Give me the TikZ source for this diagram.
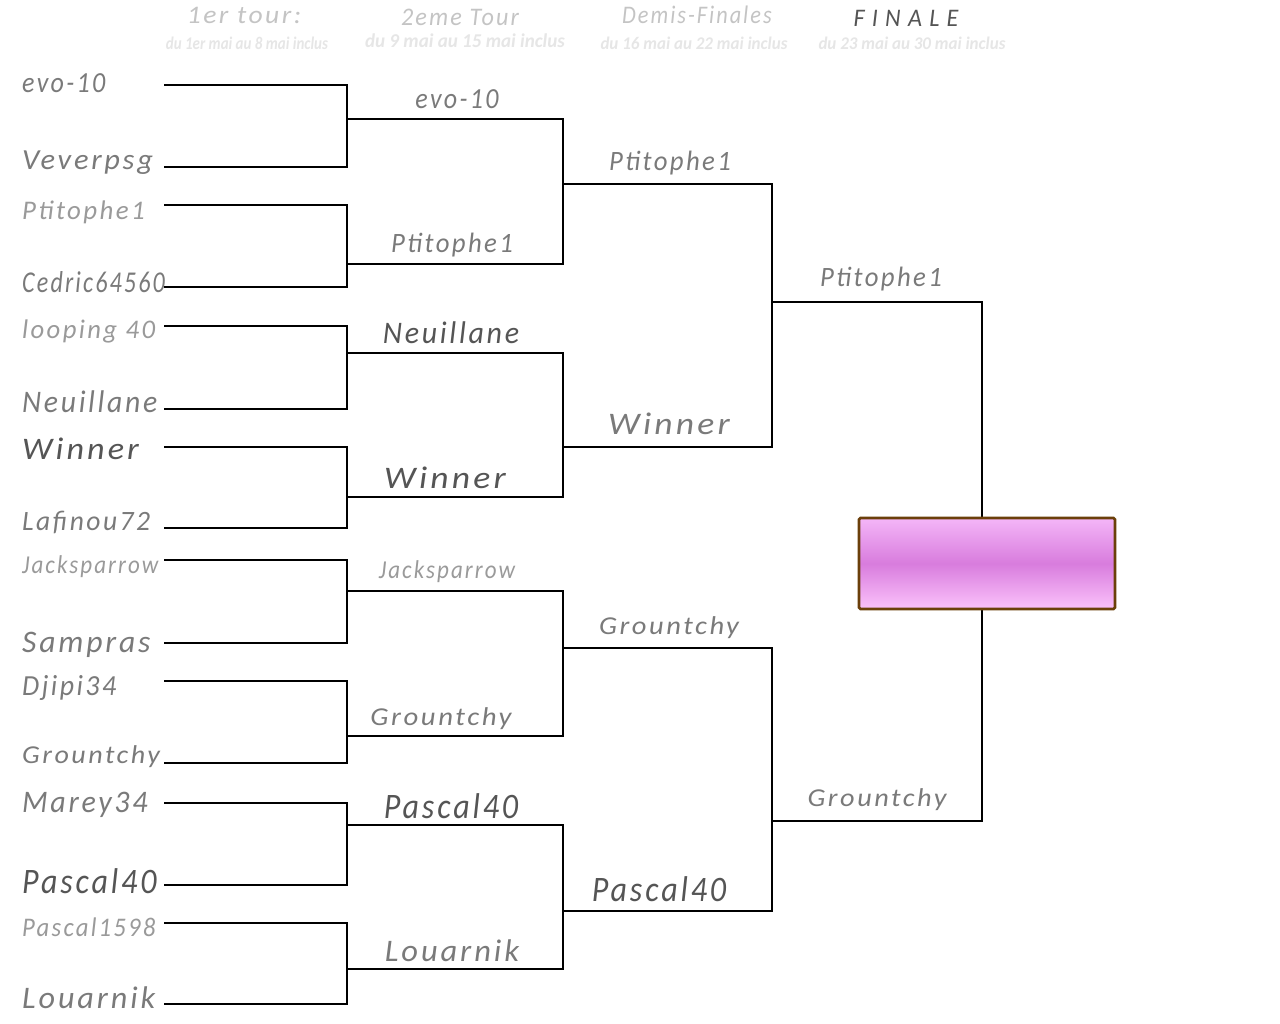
\documentclass[tikz,border=0pt]{standalone}
\usepackage{fontspec}
\usepackage{graphicx}
\setmainfont{Carlito}
\newfontfamily\namefont[LetterSpace=9]{Carlito}
\newfontfamily\finfont[LetterSpace=30]{Carlito}
\newfontfamily\subfont{Carlito}
\newcommand\lbl[2]{\scalebox{#1}[1.12]{#2}}
\definecolor{nmgray}{HTML}{7A7A7A}
\definecolor{nmdark}{HTML}{555555}
\definecolor{nmlight}{HTML}{9A9A9A}
\definecolor{hdgray}{HTML}{C4C4C4}
\definecolor{subgray}{HTML}{E6E6E6}
\definecolor{boxedge}{HTML}{6B3F0A}
\definecolor{boxtop}{HTML}{F4B6F8}
\definecolor{boxmid}{HTML}{D87CDD}
\definecolor{boxbot}{HTML}{FBC2FB}
\begin{document}
\begin{tikzpicture}[x=1pt,y=-1pt,
  wire/.style={line width=2.8pt,black,line cap=rect,line join=miter},
  nm/.style={inner sep=0pt,text=nmgray,font=\namefont\itshape\fontsize{#1}{#1}\selectfont},
  nm/.default=26,
  hd/.style={inner sep=0pt,text=hdgray,font=\namefont\itshape\fontsize{23}{23}\selectfont},
  sub/.style={inner sep=0pt,text=subgray,font=\subfont\bfseries\itshape\fontsize{17}{17}\selectfont}]
\useasboundingbox[fill=white] (0,0) rectangle (1280,1024);

% headers
\node[hd] (h1) at (244,15) {\scalebox{1.2}[1.1]{1er tour:}};
\node[sub] (s1) at (247,43) {\scalebox{0.88}[1.05]{du 1er mai au 8 mai inclus}};
\node[hd] (h2) at (460,17) {\scalebox{1.05}[1.1]{2eme Tour}};
\node[sub] (s2) at (465,41) {\scalebox{1.12}[1.15]{du 9 mai au 15 mai inclus}};
\node[hd] (h3) at (697,15) {\scalebox{0.97}[1.1]{Demis-Finales}};
\node[sub] (s3) at (694,43) {\scalebox{1}[1.05]{du 16 mai au 22 mai inclus}};
\node[hd,text=nmdark,font=\finfont\itshape\fontsize{23}{23}\selectfont] (h4) at (906,18) {\scalebox{1.05}[1.1]{FINALE}};
\node[sub] (s4) at (912,43) {\scalebox{1}[1.05]{du 23 mai au 30 mai inclus}};

% round 1 coordinates
\foreach \n/\y in {1/85,2/167,3/205,4/287,5/326,6/409,7/447,8/528,
                   9/560,10/643,11/681,12/763,13/803,14/885,15/923,16/1004}{
  \coordinate (a\n) at (165,\y);
  \coordinate (b\n) at (347,\y);
}
% round 2
\foreach \n/\y in {1/119,2/264,3/353,4/497,5/591,6/736,7/825,8/969}{
  \coordinate (c\n) at (347,\y);
  \coordinate (d\n) at (563,\y);
}
% round 3
\foreach \n/\y in {1/184,2/447,3/648,4/911}{
  \coordinate (e\n) at (563,\y);
  \coordinate (f\n) at (772,\y);
}
% final
\foreach \n/\y in {1/302,2/821}{
  \coordinate (g\n) at (772,\y);
  \coordinate (k\n) at (982,\y);
}

% brackets
\foreach \i/\j in {1/2,3/4,5/6,7/8,9/10,11/12,13/14,15/16}{
  \draw[wire] (a\i) -- (b\i) -- (b\j) -- (a\j);
}
\foreach \n in {1,...,8}{ \draw[wire] (c\n) -- (d\n); }
\foreach \i/\j in {1/2,3/4,5/6,7/8}{ \draw[wire] (d\i) -- (d\j); }
\foreach \n in {1,...,4}{ \draw[wire] (e\n) -- (f\n); }
\foreach \i/\j in {1/2,3/4}{ \draw[wire] (f\i) -- (f\j); }
\draw[wire] (g1) -- (k1) -- (k2) -- (g2);

% winner box
\node[draw=boxedge,line width=2.8pt,rounded corners=1.5pt,
      top color=boxtop,bottom color=boxbot,middle color=boxmid,
      minimum width=256pt,minimum height=91pt,inner sep=0pt] (champ) at (987,563.5) {};

% round 1 names
\node[nm=26,anchor=west] (p1) at (22,83) {\lbl{1.0}{evo-10}};
\node[nm=26,anchor=west] (p2) at (22,163) {\lbl{1.17}{Veverpsg}};
\node[nm=24,anchor=west,text=nmlight] (p3) at (22,212) {\lbl{1.12}{Ptitophe1}};
\node[nm=27,anchor=west] (p4) at (22,282) {\lbl{0.89}{Cedric64560}};
\node[nm=24,anchor=west,text=nmlight] (p5) at (22,331) {\lbl{1.11}{looping 40}};
\node[nm=28,anchor=west] (p6) at (22,402) {\lbl{1.06}{Neuillane}};
\node[nm=28,anchor=west,text=nmdark] (p7) at (22,449) {\lbl{1.22}{Winner}};
\node[nm=25,anchor=west] (p8) at (22,522) {\lbl{1.1}{Lafinou72}};
\node[nm=23,anchor=west,text=nmlight] (p9) at (22,567) {\lbl{1.0}{Jacksparrow}};
\node[nm=28,anchor=west] (p10) at (22,645) {\lbl{1.13}{Sampras}};
\node[nm=26,anchor=west] (p11) at (22,688) {\lbl{1.07}{Djipi34}};
\node[nm=23,anchor=west] (p12) at (22,757) {\lbl{1.22}{Grountchy}};
\node[nm=28,anchor=west] (p13) at (22,805) {\lbl{1.07}{Marey34}};
\node[nm=32,anchor=west,text=nmdark] (p14) at (22,881) {\lbl{1.0}{Pascal40}};
\node[nm=24,anchor=west,text=nmlight] (p15) at (22,927) {\lbl{1.03}{Pascal1598}};
\node[nm=28,anchor=west] (p16) at (22,998) {\lbl{1.15}{Louarnik}};

% round 2 names
\node[nm=26] (q1) at (457,99) {\lbl{1.0}{evo-10}};
\node[nm=25] (q2) at (452,245) {\lbl{1.07}{Ptitophe1}};
\node[nm=28,text=nmdark] (q3) at (451,333) {\lbl{1.07}{Neuillane}};
\node[nm=28,text=nmdark] (q4) at (445,478) {\lbl{1.27}{Winner}};
\node[nm=23,text=nmlight] (q5) at (447,572) {\lbl{1.0}{Jacksparrow}};
\node[nm=23] (q6) at (441,719) {\lbl{1.25}{Grountchy}};
\node[nm=32,text=nmdark] (q7) at (451,806) {\lbl{1.0}{Pascal40}};
\node[nm=28] (q8) at (452,951) {\lbl{1.16}{Louarnik}};

% semi-final names
\node[nm=25] (r1) at (670,163) {\lbl{1.07}{Ptitophe1}};
\node[nm=28] (r2) at (669,424) {\lbl{1.27}{Winner}};
\node[nm=23] (r3) at (669,628) {\lbl{1.24}{Grountchy}};
\node[nm=32,text=nmdark] (r4) at (659,889) {\lbl{1.0}{Pascal40}};

% final names
\node[nm=25] (t1) at (881,279) {\lbl{1.07}{Ptitophe1}};
\node[nm=23] (t2) at (877,800) {\lbl{1.23}{Grountchy}};
\end{tikzpicture}
\end{document}
